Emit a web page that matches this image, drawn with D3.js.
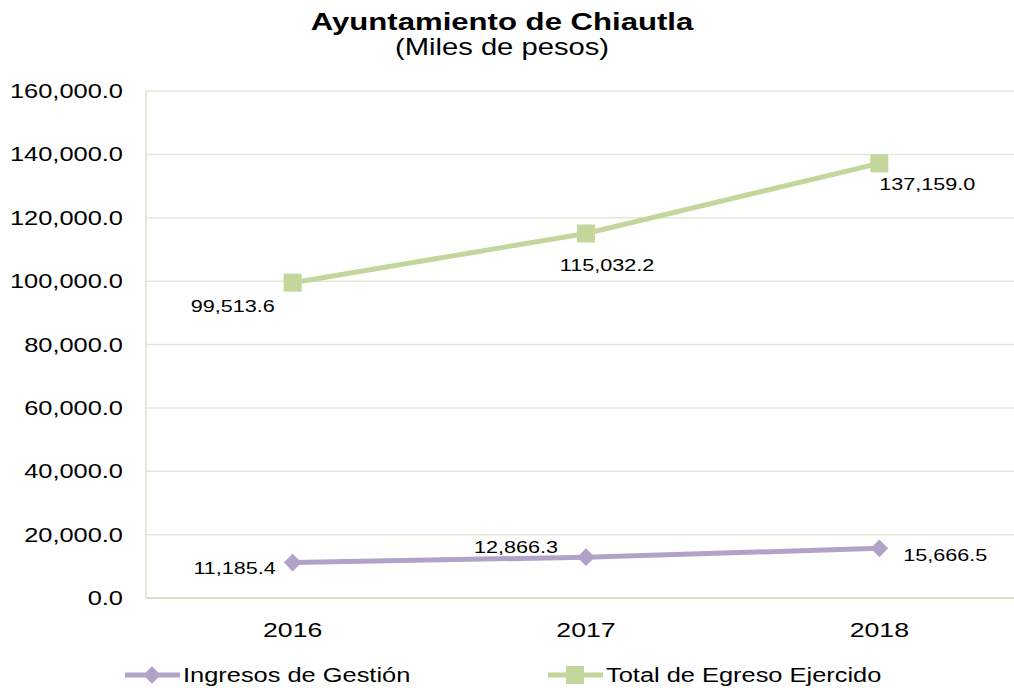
<!DOCTYPE html>
<html>
<head>
<meta charset="utf-8">
<script src="https://cdn.jsdelivr.net/npm/d3@7"></script>
<style>
body { margin: 0; background: #fff; }
text { font-family: "Liberation Sans", Arial, sans-serif; fill: #000; }
</style>
</head>
<body>
<div id="chart"></div>
<script>
// data
var years = ["2016", "2017", "2018"];
var ingresos = [11185.4, 12866.3, 15666.5];
var egresos = [99513.6, 115032.2, 137159.0];
var yTicks = [0, 20000, 40000, 60000, 80000, 100000, 120000, 140000, 160000];
var seriesNames = ["Ingresos de Gestión", "Total de Egreso Ejercido"];

var W = 1014, H = 688;
var stretch = 1.27;   // text in the original is drawn wide
var plotLeft = 146, plotTop = 91, plotBottom = 598, plotRight = 1026;

var svg = d3.select("#chart").append("svg")
    .attr("width", W)
    .attr("height", H);

var x = d3.scaleBand().domain(years).range([plotLeft, plotRight]);
var y = d3.scaleLinear().domain([0, 160000]).range([plotBottom, plotTop]);
var fmt = d3.format(",.1f");

function wideText(g, tx, ty, str, size, anchor, weight) {
    return g.append("text")
        .attr("transform", "translate(" + tx + "," + ty + ") scale(" + stretch + ",1)")
        .attr("text-anchor", anchor || "middle")
        .style("font-size", size + "px")
        .style("font-weight", weight || "normal")
        .text(str);
}

// grid
svg.append("g").selectAll("line").data(yTicks).enter().append("line")
    .attr("x1", plotLeft).attr("x2", plotRight)
    .attr("y1", function(d){ return y(d); })
    .attr("y2", function(d){ return y(d); })
    .attr("stroke", "#e6e6d6")
    .attr("stroke-width", 1.5);

svg.append("line")
    .attr("x1", plotLeft).attr("x2", plotLeft)
    .attr("y1", plotTop).attr("y2", plotBottom)
    .attr("stroke", "#e0e0cc").attr("stroke-width", 1.5);
svg.append("line")
    .attr("x1", plotLeft).attr("x2", plotRight)
    .attr("y1", plotBottom).attr("y2", plotBottom)
    .attr("stroke", "#dcdcc8").attr("stroke-width", 2);

// y labels
var yl = svg.append("g");
yTicks.forEach(function(t){
    wideText(yl, 123, y(t) + 7, fmt(t), 20, "end");
});

// x labels
var xl = svg.append("g");
years.forEach(function(yr){
    wideText(xl, x(yr) + x.bandwidth() / 2, 637, yr, 21, "middle");
});

// title
wideText(svg, 502, 30, "Ayuntamiento de Chiautla", 24.5, "middle", "bold");
wideText(svg, 502, 55, "(Miles de pesos)", 23, "middle");

var cx = function(d, i){ return x(years[i]) + x.bandwidth() / 2; };
var line = d3.line().x(cx).y(function(d){ return y(d); });

var purple = "#b3a2c7", green = "#c3d69b";

// lines
svg.append("path").datum(egresos)
    .attr("d", line).attr("fill", "none")
    .attr("stroke", green).attr("stroke-width", 5);
svg.append("path").datum(ingresos)
    .attr("d", line).attr("fill", "none")
    .attr("stroke", purple).attr("stroke-width", 5);

// markers
svg.append("g").selectAll("rect").data(egresos).enter().append("rect")
    .attr("x", function(d, i){ return cx(d, i) - 9; })
    .attr("y", function(d){ return y(d) - 9; })
    .attr("width", 18).attr("height", 18)
    .attr("fill", green);

var diamond = d3.symbol().type(d3.symbolDiamond2).size(200);
svg.append("g").selectAll("path").data(ingresos).enter().append("path")
    .attr("transform", function(d, i){ return "translate(" + cx(d, i) + "," + y(d) + ")"; })
    .attr("d", diamond)
    .attr("fill", purple);

// data labels: offset from point [dx, dy]
var egresoLabelPos = [[-60, 29], [21, 38], [48, 27]];
var ingresoLabelPos = [[-58, 11], [-70, -4], [66, 13]];

var dl = svg.append("g");
egresos.forEach(function(d, i){
    wideText(dl, cx(d, i) + egresoLabelPos[i][0], y(d) + egresoLabelPos[i][1], fmt(d), 17, "middle");
});
ingresos.forEach(function(d, i){
    wideText(dl, cx(d, i) + ingresoLabelPos[i][0], y(d) + ingresoLabelPos[i][1], fmt(d), 17, "middle");
});

// legend
var lg = svg.append("g");
var legendX = [125, 548];
var legendColors = [purple, green];
seriesNames.forEach(function(name, i){
    var lx = legendX[i], ly = 675;
    lg.append("line")
        .attr("x1", lx).attr("x2", lx + 55)
        .attr("y1", ly).attr("y2", ly)
        .attr("stroke", legendColors[i]).attr("stroke-width", 5);
    if (i === 0) {
        lg.append("path")
            .attr("transform", "translate(" + (lx + 27) + "," + ly + ")")
            .attr("d", diamond).attr("fill", purple);
    } else {
        lg.append("rect")
            .attr("x", lx + 27 - 9).attr("y", ly - 9)
            .attr("width", 18).attr("height", 18)
            .attr("fill", green);
    }
    wideText(lg, lx + 58, ly + 7, name, 20, "start");
});
</script>
</body>
</html>
